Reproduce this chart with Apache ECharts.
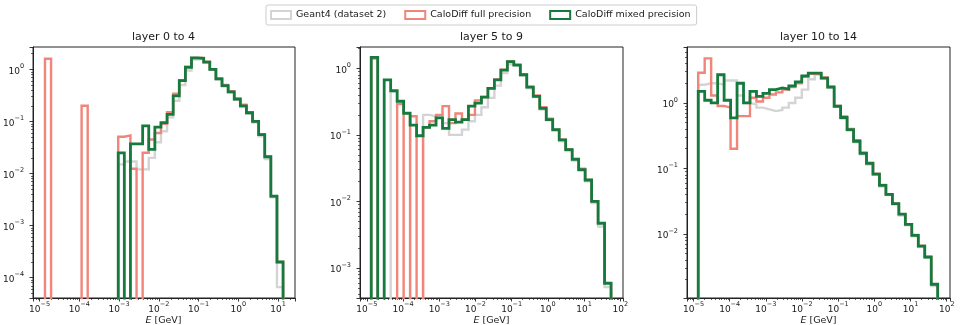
<!DOCTYPE html>
<html>
<head>
<meta charset="utf-8">
<script src="https://cdn.jsdelivr.net/npm/echarts@6/dist/echarts.min.js"></script>
<style>
html,body{margin:0;padding:0;background:#fff;}
#chart{width:960px;height:325px;}
</style>
</head>
<body>
<div id="chart"></div>
<script>
// ---------------- data ----------------
const seriesNames = ['Geant4 (dataset 2)', 'CaloDiff full precision', 'CaloDiff mixed precision'];
const seriesColors = ['#d4d4d4', '#f2857a', '#16793d'];
const panelTitles = ['layer 0 to 4', 'layer 5 to 9', 'layer 10 to 14'];
const xAxisTitle = ['E', ' [GeV]'];

// histogram bin range (log10 of E in GeV) for each panel; bins are log-spaced
const binLogRange = [[-4.866, 1.124], [-4.88, 1.745], [-4.87, 1.75]];
// axis limits (log10)
const xLogRange = [[-5.166, 1.424], [-5.19, 2.075], [-5.18, 2.09]];
const yLogRange = [[-4.39, 0.43], [-3.45, 0.32], [-2.98, 0.855]];

// layer 0 to 4 (39 bins)
const geant4_L0 = [0,0,0,0,0,0,0,0,0,0,0,0, 0.015,0.017,0.017,0.012,0.012,0.02,0.04,0.065,0.12,0.25,0.5,0.95,1.55,1.6,1.35,0.98,0.64,0.47,0.36,0.26,0.19,0.14,0.095,0.052,0.019,0.0035,0.000066];
const full_L0   = [1.6,0,0,0,0,0,0.2,0,0,0,0,0, 0.051,0.054,0.0124,0,0.025,0.045,0.06,0.09,0.15,0.34,0.62,1.12,1.65,1.65,1.4,1.0,0.67,0.5,0.38,0.27,0.21,0.15,0.1,0.057,0.021,0.0036,0.0002];
const mixed_L0  = [0,0,0,0,0,0,0,0,0,0,0,0, 0.025,0,0.037,0.037,0.082,0.029,0.078,0.095,0.137,0.31,0.61,1.1,1.67,1.63,1.38,1.0,0.66,0.49,0.37,0.27,0.2,0.147,0.1,0.056,0.021,0.0037,0.0002];

// layer 5 to 9 (37 bins)
const geant4_L5 = [0,0,0,0.45,0.3,0.22,0,0,0.2,0.19,0.2,0.15,0.1,0.1,0.12,0.16,0.2,0.26,0.36,0.55,0.85,1.15,1.08,0.78,0.5,0.37,0.24,0.165,0.115,0.08,0.057,0.041,0.029,0.02,0.0095,0.0042,0.00052];
const full_L5   = [1.4,0,0,0,0.29,0,0.19,0,0.13,0.16,0.2,0.27,0.15,0.21,0.17,0.2,0.33,0.37,0.5,0.68,0.95,1.27,1.13,0.81,0.53,0.39,0.26,0.175,0.12,0.085,0.061,0.044,0.031,0.021,0.01,0.0048,0.0006];
const mixed_L5  = [1.46,0,0.67,0.46,0.32,0.21,0.14,0.097,0.13,0.14,0.18,0.125,0.17,0.155,0.17,0.27,0.3,0.37,0.5,0.67,0.94,1.26,1.12,0.8,0.52,0.38,0.25,0.17,0.12,0.084,0.06,0.043,0.03,0.021,0.01,0.0047,0.00059];

// layer 10 to 14 (37 bins)
const geant4_L10 = [1.9,2.0,2.0,1.9,2.2,2.2,1.3,1.0,0.95,0.85,0.8,0.75,0.78,0.85,1.0,1.2,1.6,2.3,2.7,2.35,1.7,0.87,0.58,0.38,0.25,0.165,0.115,0.08,0.053,0.039,0.028,0.019,0.0135,0.0092,0.0063,0.0043,0.0016];
const full_L10   = [2.9,4.8,1.3,0.9,0.85,0.2,0.63,0.63,1.2,1.05,1.2,1.35,1.45,1.6,1.75,2.0,2.5,2.8,2.85,2.45,1.78,0.9,0.62,0.4,0.27,0.175,0.12,0.083,0.056,0.04,0.029,0.02,0.014,0.0096,0.0066,0.0045,0.0017];
const mixed_L10  = [1.5,1.1,1.0,2.7,1.1,0.59,2.0,1.0,1.5,1.26,1.4,1.6,1.7,1.63,1.83,2.1,2.6,2.85,2.85,2.4,1.75,0.89,0.6,0.39,0.26,0.17,0.12,0.082,0.055,0.04,0.029,0.02,0.014,0.0095,0.0065,0.0044,0.0017];

// ---------------- layout ----------------
const gridLeft = [32, 360, 687];
const gridTop = 47, gridW = 263, gridH = 251;
const FONT = 'DejaVu Sans';
const TXT = '#1a1a1a';

const panels = [
  {title: panelTitles[0], bins: binLogRange[0], x: xLogRange[0], y: yLogRange[0], vals: [geant4_L0, full_L0, mixed_L0]},
  {title: panelTitles[1], bins: binLogRange[1], x: xLogRange[1], y: yLogRange[1], vals: [geant4_L5, full_L5, mixed_L5]},
  {title: panelTitles[2], bins: binLogRange[2], x: xLogRange[2], y: yLogRange[2], vals: [geant4_L10, full_L10, mixed_L10]}
];

function logEdges(range, n) {
  const e = [];
  for (let k = 0; k <= n; k++) e.push(Math.pow(10, range[0] + (range[1] - range[0]) * k / n));
  return e;
}
// minor tick positions (log10 of 2..9 x 10^n) inside a log range, like matplotlib's LogLocator
function minorTickLogs(range) {
  const out = [];
  for (let d = Math.floor(range[0]); d <= Math.ceil(range[1]); d++) {
    for (let m = 2; m <= 9; m++) {
      const l = d + Math.log10(m);
      if (l > range[0] && l < range[1]) out.push(l);
    }
  }
  return out;
}
const FLOOR = 1e-12;
function stepPoints(edges, vals) {
  const pts = [[edges[0], FLOOR]];
  vals.forEach((v, i) => {
    const y = v > 0 ? v : FLOOR;
    pts.push([edges[i], y], [edges[i + 1], y]);
  });
  pts.push([edges[vals.length], FLOOR]);
  return pts;
}
function powFmt(v) {
  const l = Math.log10(v);
  const n = Math.round(l);
  if (Math.abs(l - n) > 1e-6) return '';
  return '{b|10}{s|' + (n < 0 ? '\u2212' + (-n) : String(n)) + '}';
}
const tickRich = {
  b: {fontSize: 9, fontFamily: FONT, color: TXT, lineHeight: 13, verticalAlign: 'bottom'},
  s: {fontSize: 6.5, fontFamily: FONT, color: TXT, lineHeight: 6, verticalAlign: 'top'}
};

const grids = [], xAxes = [], yAxes = [], series = [], graphics = [];
const minorX = [], minorY = [];
panels.forEach((p, i) => {
  grids.push({left: gridLeft[i], top: gridTop, width: gridW, height: gridH, show: true,
    borderColor: '#222', borderWidth: 1, backgroundColor: 'rgba(0,0,0,0)'});
  xAxes.push({
    type: 'log', logBase: 10, gridIndex: i, position: 'bottom',
    min: Math.pow(10, p.x[0]), max: Math.pow(10, p.x[1]),
    axisLine: {show: true, onZero: false, lineStyle: {color: '#222', width: 1}},
    axisTick: {show: true, length: 3.5, lineStyle: {color: '#222', width: 0.9}},
    splitLine: {show: false}, minorTick: {show: false}, minorSplitLine: {show: false},
    axisLabel: {interval: 0, margin: 3, hideOverlap: false, formatter: powFmt, rich: tickRich}
  });
  yAxes.push({
    type: 'log', logBase: 10, gridIndex: i, position: 'left',
    min: Math.pow(10, p.y[0]), max: Math.pow(10, p.y[1]),
    axisLine: {show: true, onZero: false, lineStyle: {color: '#222', width: 1}},
    axisTick: {show: true, length: 3.5, lineStyle: {color: '#222', width: 0.9}},
    splitLine: {show: false}, minorTick: {show: false}, minorSplitLine: {show: false},
    axisLabel: {interval: 0, margin: 9, hideOverlap: false, formatter: powFmt, rich: tickRich}
  });
  // decorative tick-only axes (linear in log10 units) carrying matplotlib-style minor ticks
  minorX.push({
    type: 'value', gridIndex: i, position: 'bottom',
    min: p.x[0], max: p.x[1],
    axisLine: {show: false, onZero: false}, splitLine: {show: false}, axisLabel: {show: false},
    axisTick: {show: true, length: 2, customValues: minorTickLogs(p.x), lineStyle: {color: '#222', width: 0.7}}
  });
  minorY.push({
    type: 'value', gridIndex: i, position: 'left',
    min: p.y[0], max: p.y[1],
    axisLine: {show: false, onZero: false}, splitLine: {show: false}, axisLabel: {show: false},
    axisTick: {show: true, length: 2, customValues: minorTickLogs(p.y), lineStyle: {color: '#222', width: 0.7}}
  });
  const n = p.vals[0].length;
  const edges = logEdges(p.bins, n);
  p.vals.forEach((vals, s) => {
    series.push({
      type: 'line', name: seriesNames[s], xAxisIndex: i, yAxisIndex: i,
      data: stepPoints(edges, vals),
      symbol: 'none', showSymbol: false, clip: true, silent: true,
      color: seriesColors[s],
      lineStyle: {color: seriesColors[s], width: s === 2 ? 2.8 : 2.4, join: 'miter', cap: 'butt'},
      z: 2 + s
    });
  });
  graphics.push({type: 'text', x: gridLeft[i] + gridW / 2, y: 37,
    style: {text: p.title, fill: TXT, font: '11px "DejaVu Sans"', align: 'center', verticalAlign: 'middle'}});
  graphics.push({type: 'text', x: gridLeft[i] + gridW / 2, y: 321,
    style: {text: '{i|' + xAxisTitle[0] + '}{r|' + xAxisTitle[1] + '}', align: 'center', verticalAlign: 'middle',
      rich: {i: {fontStyle: 'italic', fontSize: 9.5, fontFamily: FONT, fill: TXT},
             r: {fontSize: 9.5, fontFamily: FONT, fill: TXT}}}});
});

const chart = echarts.init(document.getElementById('chart'), null, {renderer: 'canvas'});
chart.setOption({
  animation: false,
  backgroundColor: '#ffffff',
  textStyle: {fontFamily: FONT},
  grid: grids,
  xAxis: xAxes.concat(minorX),
  yAxis: yAxes.concat(minorY),
  legend: {
    data: seriesNames, top: 5, left: 266,
    icon: 'emptyRect', itemWidth: 20, itemHeight: 8, itemGap: 18,
    textStyle: {fontSize: 9.5, fontFamily: FONT, color: TXT},
    borderColor: '#cccccc', borderWidth: 1, borderRadius: 2,
    backgroundColor: '#fff', padding: [5, 6, 5, 4], selectedMode: false
  },
  graphic: graphics,
  series: series
});
</script>
</body>
</html>
